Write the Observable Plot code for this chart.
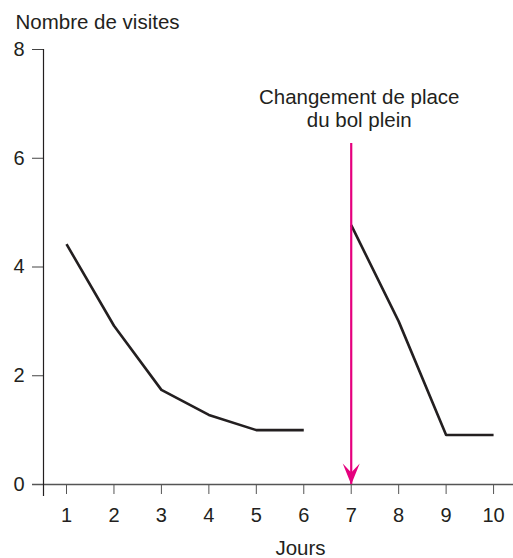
<!DOCTYPE html>
<html>
<head>
<meta charset="utf-8">
<script src="https://cdn.jsdelivr.net/npm/d3@7"></script>
<script src="https://cdn.jsdelivr.net/npm/@observablehq/plot@0.6"></script>
<style>
  html, body { margin: 0; padding: 0; background: #fff; }
  #chart svg { display: block; }
</style>
</head>
<body>
<div id="chart"></div>
<script>
// Data
const daysBefore = [1, 2, 3, 4, 5, 6];
const visitsBefore = [4.42, 2.92, 1.74, 1.28, 1.0, 1.0];
const daysAfter = [7, 8, 9, 10];
const visitsAfter = [4.77, 3.0, 0.91, 0.91];
const xTicks = [1, 2, 3, 4, 5, 6, 7, 8, 9, 10];
const yTicks = [0, 2, 4, 6, 8];
const arrowDay = [7];
const arrowTop = [6.27];
const annotation = ["Changement de place\ndu bol plein"];
const annotationY = [6.92];
const yTitle = "Nombre de visites";
const xTitle = "Jours";

const magenta = "#e5007e";
const ink = "#231f20";
const font = "'Liberation Sans', Arial, Helvetica, sans-serif";

const arrowHead = {
  draw(context) {
    context.moveTo(0, 0);
    context.lineTo(-8.5, -21);
    context.lineTo(0, -12);
    context.lineTo(8.5, -21);
    context.closePath();
  }
};

const chart = Plot.plot({
  width: 513,
  height: 558,
  marginTop: 49,
  marginBottom: 74,
  marginLeft: 43,
  marginRight: 0,
  style: {fontFamily: font, fontSize: "20px", color: ink, background: "#fff"},
  x: {domain: [0.515, 10.42]},
  y: {domain: [0, 8]},
  marks: [
    Plot.axisX({ticks: xTicks, tickSize: 10, tickPadding: 13, label: null, stroke: "#555", fontSize: 20, color: ink}),
    Plot.axisY({ticks: yTicks, tickSize: 11, tickPadding: 8, label: null, stroke: "#444", fontSize: 20}),
    Plot.ruleY([0], {stroke: "#555", strokeWidth: 1.5, insetLeft: -11}),
    Plot.ruleX([0.515], {stroke: ink, strokeWidth: 1.2, insetBottom: -12}),
    Plot.line(visitsBefore, {x: daysBefore, y: visitsBefore, stroke: ink, strokeWidth: 2.6, strokeLinecap: "butt"}),
    Plot.line(visitsAfter, {x: daysAfter, y: visitsAfter, stroke: ink, strokeWidth: 2.6, strokeLinecap: "butt"}),
    Plot.ruleX(arrowDay, {x: d => d, y1: 0, y2: arrowTop[0], stroke: magenta, strokeWidth: 2.2}),
    Plot.dot(arrowDay, {x: d => d, y: 0, symbol: arrowHead, fill: magenta, stroke: "none"}),
    Plot.text(annotation, {x: arrowDay, y: annotationY, text: d => d, dx: 8, fontSize: 20.5, lineHeight: 1.12, fill: ink}),
    Plot.text([yTitle], {frameAnchor: "top-left", lineAnchor: "middle", text: d => d, textAnchor: "start", dx: -28, dy: -26.6, fontSize: 20.5, fill: ink}),
    Plot.text([xTitle], {frameAnchor: "bottom", lineAnchor: "middle", text: d => d, dx: 22, dy: 64, fontSize: 20.5, fill: ink})
  ]
});
document.getElementById("chart").appendChild(chart);
</script>
</body>
</html>
